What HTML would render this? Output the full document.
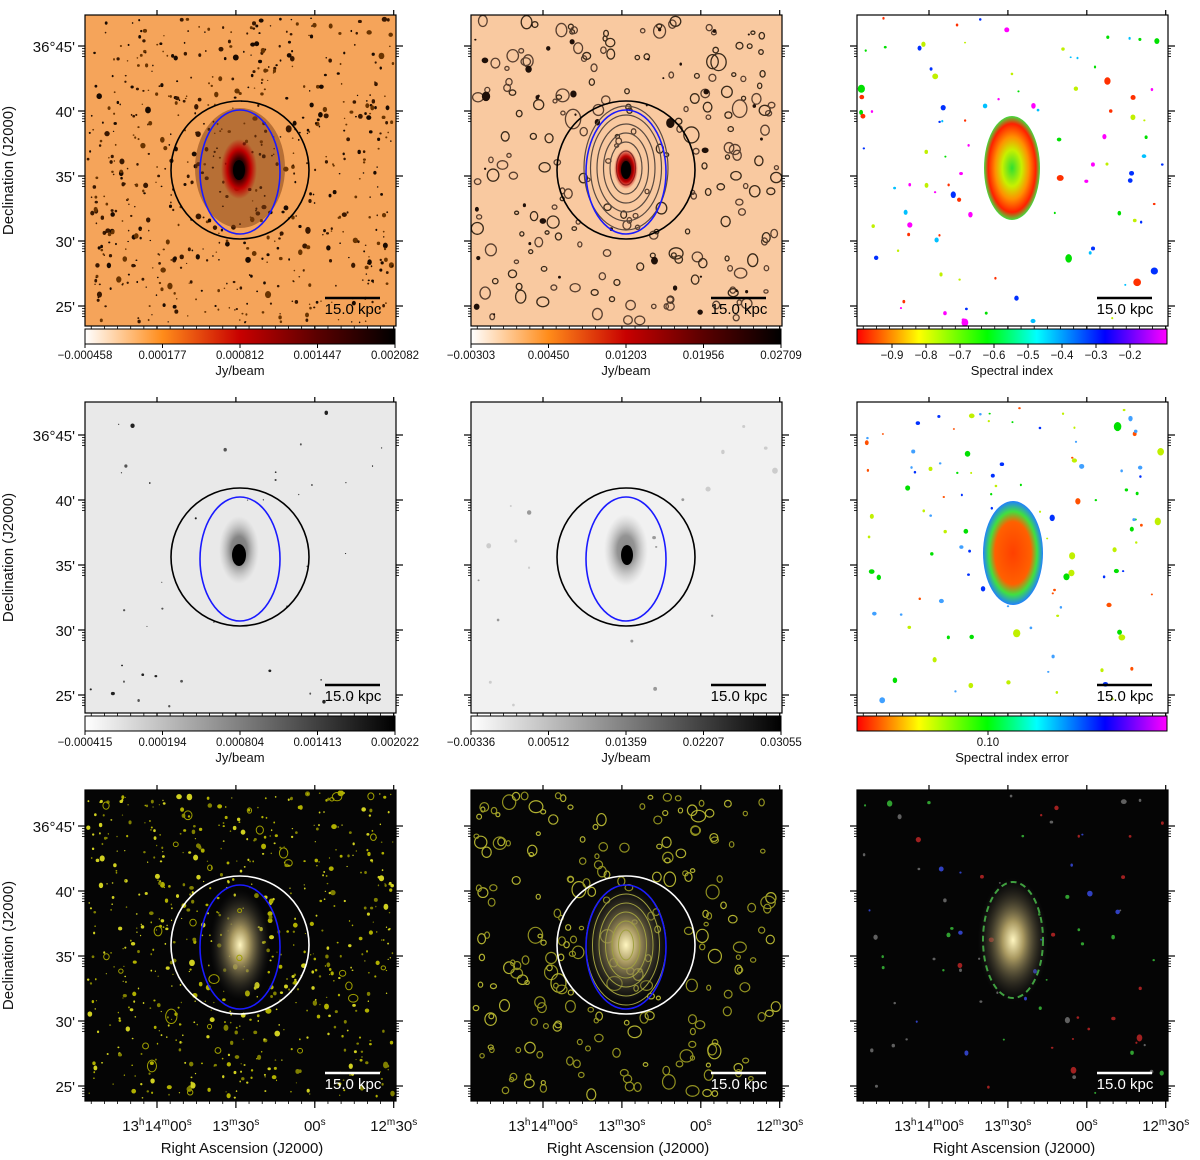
<!DOCTYPE html>
<html><head><meta charset="utf-8">
<style>
html,body{margin:0;padding:0;background:#fff;width:1200px;height:1160px;overflow:hidden}
svg{display:block;font-family:"Liberation Sans","DejaVu Sans",sans-serif}
</style></head>
<body>
<svg id="fig" width="1200" height="1160" viewBox="0 0 1200 1160" xmlns="http://www.w3.org/2000/svg">
<defs>
<linearGradient id="gHot" x1="0" x2="1" y1="0" y2="0"><stop offset="0" stop-color="#fff"/><stop offset="0.25" stop-color="#ff8c1a"/><stop offset="0.5" stop-color="#c80000"/><stop offset="0.75" stop-color="#5a0000"/><stop offset="1" stop-color="#000"/></linearGradient>
<linearGradient id="gGrey" x1="0" x2="1" y1="0" y2="0"><stop offset="0" stop-color="#fff"/><stop offset="1" stop-color="#000"/></linearGradient>
<linearGradient id="gRain" x1="0" x2="1" y1="0" y2="0"><stop offset="0" stop-color="#ff0000"/><stop offset="0.2" stop-color="#ffff00"/><stop offset="0.42" stop-color="#00ff00"/><stop offset="0.58" stop-color="#00ffff"/><stop offset="0.8" stop-color="#0000ff"/><stop offset="1" stop-color="#ff00ff"/></linearGradient>
<radialGradient id="gCore" cx="0.5" cy="0.5" r="0.5"><stop offset="0" stop-color="#000"/><stop offset="0.35" stop-color="#3a0000"/><stop offset="0.65" stop-color="#c00000"/><stop offset="1" stop-color="#c00000" stop-opacity="0"/></radialGradient>
<radialGradient id="gGreyCore" cx="0.5" cy="0.5" r="0.5"><stop offset="0" stop-color="#000"/><stop offset="0.4" stop-color="#222"/><stop offset="1" stop-color="#888" stop-opacity="0"/></radialGradient>
<radialGradient id="gOpt" cx="0.5" cy="0.5" r="0.5"><stop offset="0" stop-color="#fff6c0"/><stop offset="0.3" stop-color="#a89860"/><stop offset="1" stop-color="#303030" stop-opacity="0"/></radialGradient>
<radialGradient id="gSpec" cx="0.5" cy="0.5" r="0.5"><stop offset="0" stop-color="#30e030"/><stop offset="0.35" stop-color="#c8f000"/><stop offset="0.6" stop-color="#ff9000"/><stop offset="0.85" stop-color="#ff2000"/><stop offset="1" stop-color="#40e040"/></radialGradient>
<radialGradient id="gErr" cx="0.5" cy="0.5" r="0.5"><stop offset="0" stop-color="#ff4000"/><stop offset="0.6" stop-color="#ff6000"/><stop offset="0.8" stop-color="#40e040"/><stop offset="1" stop-color="#2080ff"/></radialGradient>
</defs>
</svg>
<script>
// ---- data arrays ----
const decLabels = ["36°45'", "40'", "35'", "30'", "25'"];
const decValues = [45, 40, 35, 30, 25];
const raLabels = ["13h14m00s", "13m30s", "00s", "12m30s"];
const raValues = [0, 30, 60, 90];
const cb1Ticks = ["\u22120.000458", "0.000177", "0.000812", "0.001447", "0.002082"];
const cb2Ticks = ["\u22120.00303", "0.00450", "0.01203", "0.01956", "0.02709"];
const cb4Ticks = ["\u22120.000415", "0.000194", "0.000804", "0.001413", "0.002022"];
const cb5Ticks = ["\u22120.00336", "0.00512", "0.01359", "0.02207", "0.03055"];
const specTicks = [-0.9, -0.8, -0.7, -0.6, -0.5, -0.4, -0.3, -0.2];
const errTicks = [0.10];

const NS = "http://www.w3.org/2000/svg";
const svg = document.getElementById("fig");
function mk(tag, attrs, parent) {
  const e = document.createElementNS(NS, tag);
  for (const k in attrs) e.setAttribute(k, attrs[k]);
  (parent || svg).appendChild(e);
  return e;
}
let seed = 12345;
function rnd() { seed = (seed * 1103515245 + 12345) % 2147483648; return seed / 2147483648; }

const colX = [85, 471, 857];
const rowY = [15, 402, 790];
const PW = 311, PH = 311;
function decY(row, d) { const y45 = [46, 435, 826][row]; return y45 + (45 - d) * 13.0; }
function raX(col, s) { return colX[col] + 72 + s * 2.63; }

function panel(col, row, bg, name) {
  const g = mk("g", {});
  
  
  mk("rect", { x: colX[col], y: rowY[row], width: PW, height: PH, fill: bg }, g);
  return g;
}
function frame(col, row, name) {
  const x = colX[col], y = rowY[row];
  const g = mk("g", {});
  
  
  mk("rect", { x: x, y: y, width: PW, height: PH, fill: "none", stroke: "#000", "stroke-width": 1.2 }, g);
  decValues.forEach((d, i) => {
    const ty = decY(row, d);
    mk("line", { x1: x - 7, x2: x, y1: ty, y2: ty, stroke: "#000", "stroke-width": 1.2 }, g);
    mk("line", { x1: x + PW, x2: x + PW + 7, y1: ty, y2: ty, stroke: "#000", "stroke-width": 1.2 }, g);
    for (let k = 1; k < 5; k++) {
      const my = ty + k * 2.6;
      if (my < y + PH) {
        mk("line", { x1: x - 3, x2: x, y1: my, y2: my, stroke: "#000", "stroke-width": 0.8 }, g);
        mk("line", { x1: x + PW, x2: x + PW + 3, y1: my, y2: my, stroke: "#000", "stroke-width": 0.8 }, g);
      }
    }
    if (col === 0) {
      const t = mk("text", { x: x - 10, y: ty + 6, "text-anchor": "end", "font-size": 15, fill: "#111" }, g);
      t.textContent = decLabels[i];
      
      
    }
  });
  raValues.forEach((s) => {
    const tx = raX(col, s);
    mk("line", { x1: tx, x2: tx, y1: y + PH, y2: y + PH + 7, stroke: "#000", "stroke-width": 1.2 }, g);
    mk("line", { x1: tx, x2: tx, y1: y - 5, y2: y, stroke: "#000", "stroke-width": 1.2 }, g);
  });
  for (let s = -25; s <= 100; s += 5) {
    const tx = raX(col, s);
    if (tx > x && tx < x + PW) mk("line", { x1: tx, x2: tx, y1: y + PH, y2: y + PH + 3, stroke: "#000", "stroke-width": 0.8 }, g);
  }
  if (row === 2) {
    raValues.forEach((s, i) => {
      const tx = raX(col, s);
      const m = raLabels[i].match(/(\d+)([hms])/g);
      const t = mk("text", { x: tx, y: 1131, "text-anchor": "middle", "font-size": 15, fill: "#111" }, g);
      
      
      m.forEach(p => {
        const num = p.slice(0, -1), u = p.slice(-1);
        const a = mk("tspan", {}, t); a.textContent = num;
        const b = mk("tspan", { "font-size": 10, dy: -6 }, t); b.textContent = u;
        const c = mk("tspan", { "font-size": 1, dy: 6 }, t); c.textContent = " ";
      });
    });
    const at = mk("text", { x: x + 157, y: 1153, "text-anchor": "middle", "font-size": 15, fill: "#111" }, g);
    at.textContent = "Right Ascension (J2000)";
    
    
  }
  if (col === 0) {
    const t = mk("text", { x: 0, y: 0, "text-anchor": "middle", "font-size": 15, fill: "#111", transform: `translate(13,${y + PH / 2}) rotate(-90)` }, g);
    t.textContent = "Declination (J2000)";
    
    
  }
}
function scalebar(col, row, color) {
  const x = colX[col], y = rowY[row];
  const g = mk("g", {});
  
  
  mk("line", { x1: x + 240, x2: x + 295, y1: y + 283, y2: y + 283, stroke: color, "stroke-width": 2.5 }, g);
  const t = mk("text", { x: x + 268, y: y + 299, "text-anchor": "middle", "font-size": 15, fill: color }, g);
  t.textContent = "15.0 kpc";
}
function dots(g, col, row, n, colors, rmin, rmax) {
  const x = colX[col], y = rowY[row];
  for (let i = 0; i < n; i++) {
    const r = rmin + rnd() * rnd() * (rmax - rmin);
    mk("ellipse", { cx: x + 3 + rnd() * (PW - 6), cy: y + 3 + rnd() * (PH - 6), rx: r, ry: r * (0.8 + rnd() * 0.5), fill: colors[Math.floor(rnd() * colors.length)] }, g);
  }
}
function rings(g, col, row, n, colors, rmin, rmax, sw) {
  const x = colX[col], y = rowY[row];
  for (let i = 0; i < n; i++) {
    const r = rmin + rnd() * rnd() * (rmax - rmin);
    mk("ellipse", { cx: x + 5 + rnd() * (PW - 10), cy: y + 5 + rnd() * (PH - 10), rx: r, ry: r * (0.8 + rnd() * 0.5), fill: "none", stroke: colors[Math.floor(rnd() * colors.length)], "stroke-width": sw }, g);
  }
}
function circles(g, col, row, cColor) {
  const cx = colX[col] + 155, cy = rowY[row] + 153;
  mk("circle", { cx: cx, cy: cy + 2, r: 69, fill: "none", stroke: cColor, "stroke-width": 1.6 }, g);
  mk("ellipse", { cx: cx, cy: cy + 4, rx: 40, ry: 62, fill: "none", stroke: "#1a1aff", "stroke-width": 1.6 }, g);
}
function colorbar(col, row, grad, ticks, title, name, positions) {
  const x = colX[col], y = rowY[row] + PH + 3;
  const g = mk("g", {});
  
  
  mk("rect", { x: x, y: y, width: PW - 1, height: 15, fill: `url(#${grad})`, stroke: "#000", "stroke-width": 1 }, g);
  ticks.forEach((lab, i) => {
    const tx = positions(i, lab);
    mk("line", { x1: tx, x2: tx, y1: y + 15, y2: y + 19, stroke: "#000" }, g);
    const t = mk("text", { x: tx, y: y + 30, "text-anchor": "middle", "font-size": 11.5, fill: "#111" }, g);
    t.textContent = lab;
    
    
  });
  const tt = mk("text", { x: x + 155, y: y + 46, "text-anchor": "middle", "font-size": 13, fill: "#111" }, g);
  tt.textContent = title;
  
  
}
const evenPos = col => (i) => colX[col] + i * (PW - 1) / 4;

// ---------- Row 1 ----------
let g = panel(0, 0, "#f5a45a", "panel-lofar-hot");
dots(g, 0, 0, 650, ["#1a0a00", "#3a1800", "#6a3400"], 0.7, 3.2);
mk("ellipse", { cx: 240, cy: 168, rx: 45, ry: 60, fill: "#7a3a10", opacity: 0.5 }, g);
mk("ellipse", { cx: 239, cy: 169, rx: 18, ry: 30, fill: "url(#gCore)" }, g);
mk("ellipse", { cx: 239, cy: 170, rx: 6, ry: 10, fill: "#000" }, g);
circles(g, 0, 0, "#000");
g = panel(1, 0, "#f9c9a0", "panel-contour-hot");
rings(g, 1, 0, 200, ["#3a2a1a", "#5a4030"], 2, 8, 1.3);
dots(g, 1, 0, 40, ["#201008"], 1, 5);
for (let k = 0; k < 6; k++) mk("ellipse", { cx: 626, cy: 168, rx: 42 - k * 6.5, ry: 62 - k * 9, fill: "none", stroke: "#5a4a40", "stroke-width": 1.2 }, g);
mk("ellipse", { cx: 626, cy: 169, rx: 12, ry: 20, fill: "url(#gCore)" }, g);
mk("ellipse", { cx: 626, cy: 170, rx: 5, ry: 9, fill: "#000" }, g);
circles(g, 1, 0, "#000");
g = panel(2, 0, "#ffffff", "panel-spectral-index");
dots(g, 2, 0, 100, ["#00e000", "#00c0ff", "#0030ff", "#ff3000", "#c0f000", "#ff00ff"], 1, 4.5);
mk("ellipse", { cx: 1012, cy: 168, rx: 28, ry: 52, fill: "url(#gSpec)" }, g);
// ---------- Row 2 ----------
g = panel(0, 1, "#e9e9e9", "panel-lofar-grey");
dots(g, 0, 1, 40, ["#222", "#555"], 0.6, 2.5);
mk("ellipse", { cx: 239, cy: 550, rx: 20, ry: 34, fill: "url(#gGreyCore)", opacity: 0.5 }, g);
mk("ellipse", { cx: 239, cy: 555, rx: 7, ry: 11, fill: "#000" }, g);
circles(g, 0, 1, "#000");
g = panel(1, 1, "#f1f1f1", "panel-smoothed-grey");
dots(g, 1, 1, 20, ["#ccc", "#999"], 1, 4);
mk("ellipse", { cx: 626, cy: 550, rx: 22, ry: 36, fill: "url(#gGreyCore)", opacity: 0.45 }, g);
mk("ellipse", { cx: 627, cy: 555, rx: 6, ry: 10, fill: "#000" }, g);
circles(g, 1, 1, "#000");
g = panel(2, 1, "#ffffff", "panel-spectral-index-error");
dots(g, 2, 1, 120, ["#00e000", "#40a0ff", "#ff5000", "#c0f000", "#0030ff"], 1, 4);
mk("ellipse", { cx: 1013, cy: 553, rx: 30, ry: 52, fill: "url(#gErr)" }, g);
// ---------- Row 3 ----------
g = panel(0, 2, "#050505", "panel-optical-lofar");
dots(g, 0, 2, 650, ["#b0b000", "#808000", "#d0d020"], 0.6, 3.2);
mk("ellipse", { cx: 240, cy: 945, rx: 30, ry: 55, fill: "url(#gOpt)" }, g);
rings(g, 0, 2, 30, ["#a0a000"], 2, 6, 1);
circles(g, 0, 2, "#fff");
g = panel(1, 2, "#050505", "panel-optical-contours");
rings(g, 1, 2, 220, ["#909020", "#b0b030"], 2, 8, 1.2);
mk("ellipse", { cx: 626, cy: 945, rx: 42, ry: 60, fill: "url(#gOpt)" }, g);
for (let k = 0; k < 6; k++) mk("ellipse", { cx: 626, cy: 945, rx: 40 - k * 6.5, ry: 60 - k * 9, fill: "none", stroke: "#a0a040", "stroke-width": 1 }, g);
circles(g, 1, 2, "#fff");
g = panel(2, 2, "#050505", "panel-optical-spectral");
dots(g, 2, 2, 80, ["#30a030", "#a02020", "#3040c0", "#606060"], 1, 3.5);
mk("ellipse", { cx: 1013, cy: 940, rx: 35, ry: 62, fill: "url(#gOpt)" }, g);
mk("ellipse", { cx: 1013, cy: 940, rx: 30, ry: 58, fill: "none", stroke: "#40a040", "stroke-width": 2, "stroke-dasharray": "6 4" }, g);

for (let r = 0; r < 3; r++) for (let c = 0; c < 3; c++) frame(c, r, `axes-r${r + 1}-c${c + 1}`);
[[0,0,"#000"],[1,0,"#000"],[2,0,"#000"],[0,1,"#000"],[1,1,"#000"],[2,1,"#000"],[0,2,"#fff"],[1,2,"#fff"],[2,2,"#fff"]].forEach(a => scalebar(a[0], a[1], a[2]));
colorbar(0, 0, "gHot", cb1Ticks, "Jy/beam", "colorbar-1", evenPos(0));
colorbar(1, 0, "gHot", cb2Ticks, "Jy/beam", "colorbar-2", evenPos(1));
const specX = v => 892 + (v + 0.9) / 0.1 * 34;
colorbar(2, 0, "gRain", specTicks.map(v => v.toFixed(1).replace("-", "\u2212")), "Spectral index", "colorbar-spectral-index", (i) => specX(specTicks[i]));
colorbar(0, 1, "gGrey", cb4Ticks, "Jy/beam", "colorbar-4", evenPos(0));
colorbar(1, 1, "gGrey", cb5Ticks, "Jy/beam", "colorbar-5", evenPos(1));
colorbar(2, 1, "gRain", errTicks.map(v => v.toFixed(2)), "Spectral index error", "colorbar-spectral-error", (i) => 857 + 131 + (errTicks[i] - 0.10) * 1000);
</script>
</body></html>
